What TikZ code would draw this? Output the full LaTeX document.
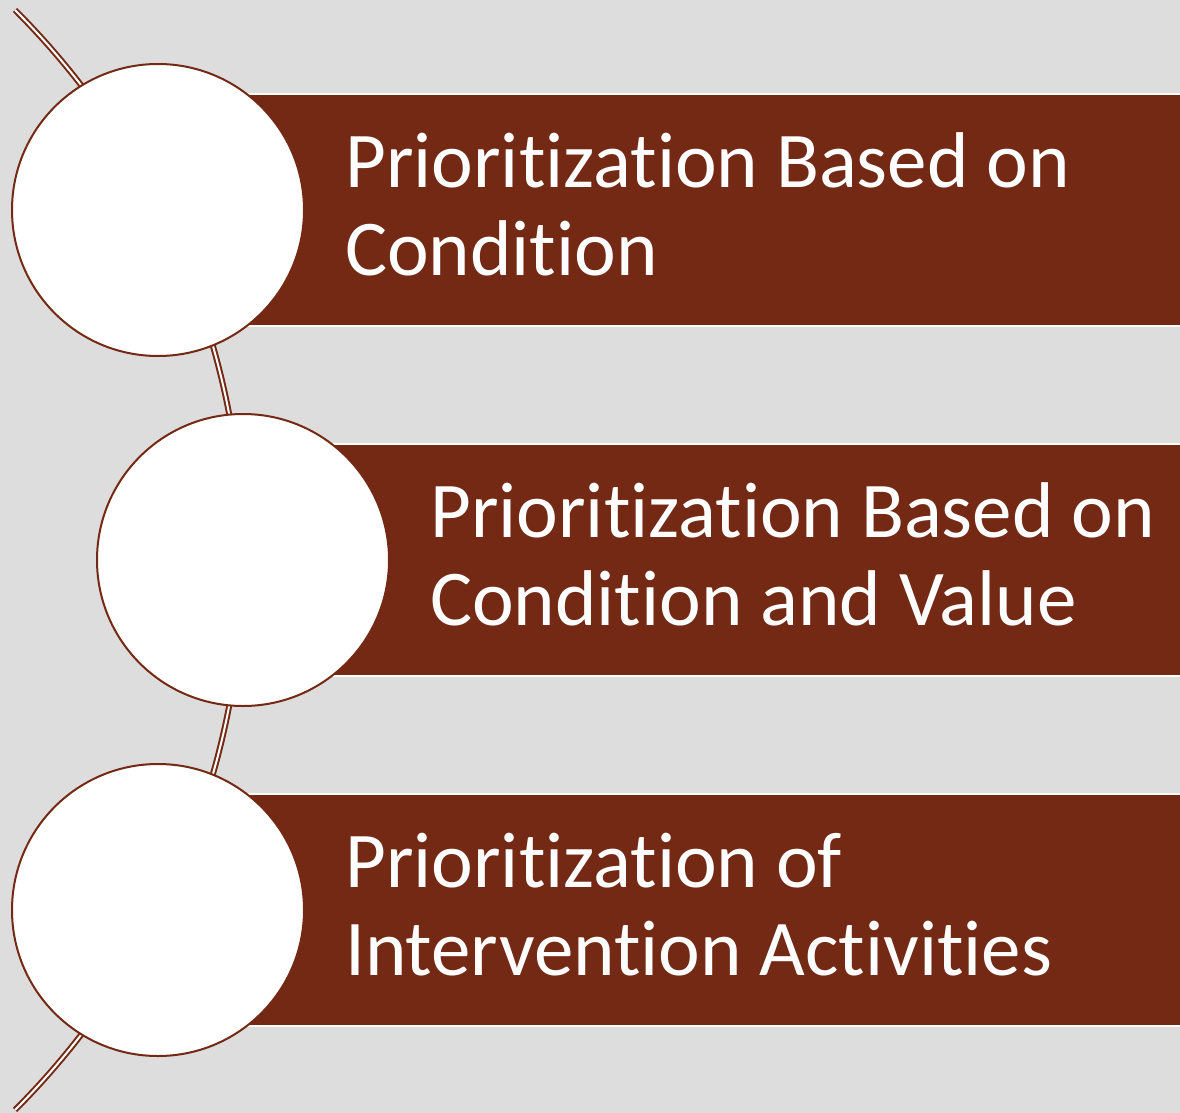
\documentclass[tikz,border=0pt]{standalone}
\usepackage{fontspec}
\setmainfont{Carlito}[RawFeature={-liga;-clig}]
\definecolor{brn}{HTML}{732914}
\definecolor{bg}{HTML}{DDDDDD}
\begin{document}
\begin{tikzpicture}[x=1pt,y=-1pt,
  bar/.style={rectangle, fill=brn, draw=white, line width=2pt, minimum width=1100pt, minimum height=232pt, anchor=west, inner sep=0pt},
  ring/.style={circle, fill=white, draw=brn, line width=2pt, minimum size=292pt, inner sep=0pt},
  lbl/.style={anchor=base west, align=left, text=white, inner sep=0pt, font=\fontsize{79}{88}\selectfont}]
\useasboundingbox (0,0) rectangle (1180,1113);
\clip (0,0) rectangle (1180,1113);
\fill[bg] (0,0) rectangle (1180,1113);
% arc spine
\draw[brn, line width=2pt, double=white, double distance=2pt] (15,10) arc[start angle=-45.03, end angle=45.03, radius=777.4];
% bars
\node[bar] (b1) at (158,210) {};
\node[bar] (b2) at (243,560) {};
\node[bar] (b3) at (158,910) {};
% circles
\node[ring] (c1) at (158,210) {};
\node[ring] (c2) at (243,560) {};
\node[ring] (c3) at (158,910) {};
% labels
\node[lbl] (t1) at (345,275) {Prioritization Based on\\Condition};
\node[lbl] (t2) at (430,625) {Prioritization Based on\\Condition and Value};
\node[lbl] (t3) at (345,975) {Prioritization of\\Intervention Activities};
\end{tikzpicture}
\end{document}
